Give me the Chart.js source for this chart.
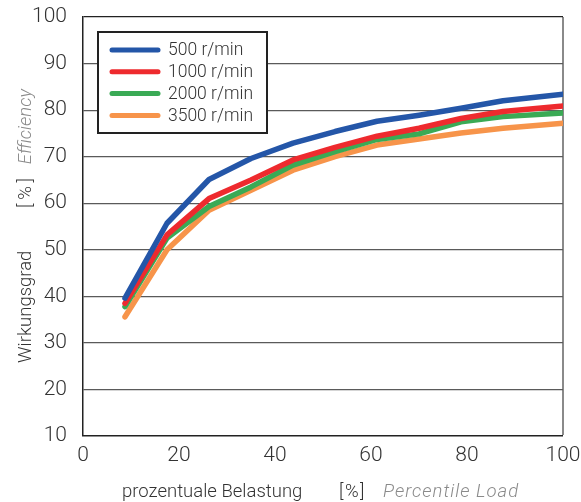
<!DOCTYPE html>
<html>
<head>
<meta charset="utf-8">
<script src="https://cdn.jsdelivr.net/npm/chart.js@4.4.0/dist/chart.umd.min.js"></script>
<style>
  html, body { margin: 0; padding: 0; background: #fff; }
  #wrap { width: 581px; height: 502px; }
</style>
</head>
<body>
<div id="wrap"><canvas id="chart" width="581" height="502"></canvas></div>
<script>
// load steps (% of rated load) and efficiency per speed
const loadPct = [8.75, 17.5, 26.25, 35, 43.75, 52.5, 61.25, 70, 78.75, 87.5, 100];
const eff500 = [39.6, 55.7, 65.1, 69.6, 72.9, 75.4, 77.6, 78.9, 80.4, 82.0, 83.4];
const eff1000 = [38.5, 53.2, 61.0, 65.0, 69.3, 72.0, 74.4, 76.1, 78.2, 79.7, 80.9];
const eff2000 = [37.8, 52.5, 59.3, 63.5, 68.2, 71.1, 73.7, 74.9, 77.5, 78.6, 79.4];
const eff3500 = [35.6, 50.0, 58.5, 62.8, 67.1, 70.0, 72.5, 73.8, 75.1, 76.1, 77.2];
const seriesNames = ['500 r/min', '1000 r/min', '2000 r/min', '3500 r/min'];
const xTicks = [0, 20, 40, 60, 80, 100];
const yTicks = [10, 20, 30, 40, 50, 60, 70, 80, 90, 100];

const colors = ['#2456a8', '#ee2a2e', '#3aaa55', '#f7944a'];
const FONT = 'Roboto, "Liberation Sans", sans-serif';

function pts(ys) {
  return loadPct.map((x, i) => ({ x: x, y: ys[i] }));
}

const datasets = [eff500, eff1000, eff2000, eff3500].map((ys, i) => ({
  label: seriesNames[i],
  data: pts(ys),
  borderColor: colors[i],
  backgroundColor: colors[i],
  borderWidth: 5.5,
  borderCapStyle: 'round',
  borderJoinStyle: 'round',
  pointRadius: 0,
  tension: 0
}));

// legend box + axis titles drawn by hand (mixed styles)
const decor = {
  id: 'decor',
  afterDraw(chart) {
    const ctx = chart.ctx;
    ctx.save();
    // legend
    ctx.fillStyle = '#fff';
    ctx.fillRect(98, 32, 169, 101);
    ctx.strokeStyle = '#222';
    ctx.lineWidth = 2;
    ctx.strokeRect(98, 32, 169, 101);
    ctx.font = '300 17.5px ' + FONT;
    ctx.textBaseline = 'middle';
    ctx.lineCap = 'round';
    chart.data.datasets.forEach((ds, i) => {
      const y = 50 + i * 21.8;
      ctx.strokeStyle = ds.borderColor;
      ctx.lineWidth = 5;
      ctx.beginPath();
      ctx.moveTo(112, y);
      ctx.lineTo(158, y);
      ctx.stroke();
      ctx.fillStyle = '#333';
      ctx.fillText(ds.label, 168, y + 1);
    });

    // x title
    ctx.textBaseline = 'alphabetic';
    ctx.font = '300 18.5px ' + FONT;
    ctx.fillStyle = '#333';
    ctx.fillText('prozentuale Belastung', 122, 497);
    ctx.letterSpacing = '1.5px';
    ctx.fillText('[%]', 339, 497);
    ctx.letterSpacing = '1px';
    ctx.font = 'italic 300 18.5px ' + FONT;
    ctx.fillStyle = '#8a8a8a';
    ctx.fillText('Percentile Load', 383, 497);
    ctx.letterSpacing = '0px';

    // y title
    ctx.translate(31, 0);
    ctx.rotate(-Math.PI / 2);
    ctx.font = '300 18.5px ' + FONT;
    ctx.fillStyle = '#333';
    ctx.textAlign = 'left';
    ctx.fillText('Wirkungsgrad', -363, 0);
    ctx.textAlign = 'center';
    ctx.fillText('[\u2009%\u2009]', -193, 0);
    ctx.font = 'italic 300 18.5px ' + FONT;
    ctx.fillStyle = '#8a8a8a';
    ctx.textAlign = 'right';
    ctx.fillText('Efficiency', -89, 0);
    ctx.restore();
  }
};

new Chart(document.getElementById('chart'), {
  type: 'line',
  data: { datasets: datasets },
  plugins: [decor],
  options: {
    responsive: false,
    animation: false,
    layout: { padding: { top: 17, right: 18, left: 0, bottom: 0 } },
    plugins: { legend: { display: false }, tooltip: { enabled: false } },
    scales: {
      x: {
        type: 'linear',
        min: 0, max: 100,
        afterFit: s => { s.height = 66; s.paddingLeft = 0; s.paddingRight = 0; },
        afterBuildTicks: s => { s.ticks = xTicks.map(v => ({ value: v })); },
        ticks: { color: '#333', padding: 7, font: { family: FONT, size: 21, weight: 300 } },
        grid: {
          drawTicks: false,
          color: c => c.tick.value === 100 ? '#8a8a8a' : 'rgba(0,0,0,0)',
          lineWidth: c => c.tick.value === 100 ? 2 : 0
        },
        border: { color: '#222', width: 1.5 }
      },
      y: {
        min: 10, max: 100,
        afterFit: s => { s.width = 83; s.paddingTop = 0; s.paddingBottom = 0; },
        afterBuildTicks: s => { s.ticks = yTicks.map(v => ({ value: v })); },
        ticks: { color: '#333', padding: 16, font: { family: FONT, size: 21, weight: 300 } },
        grid: {
          drawTicks: false,
          color: c => c.tick.value === 100 ? '#222' : '#5a5a5a',
          lineWidth: c => c.tick.value === 10 ? 0 : 1.2
        },
        border: { color: '#222', width: 1.5 }
      }
    }
  }
});
</script>
</body>
</html>
